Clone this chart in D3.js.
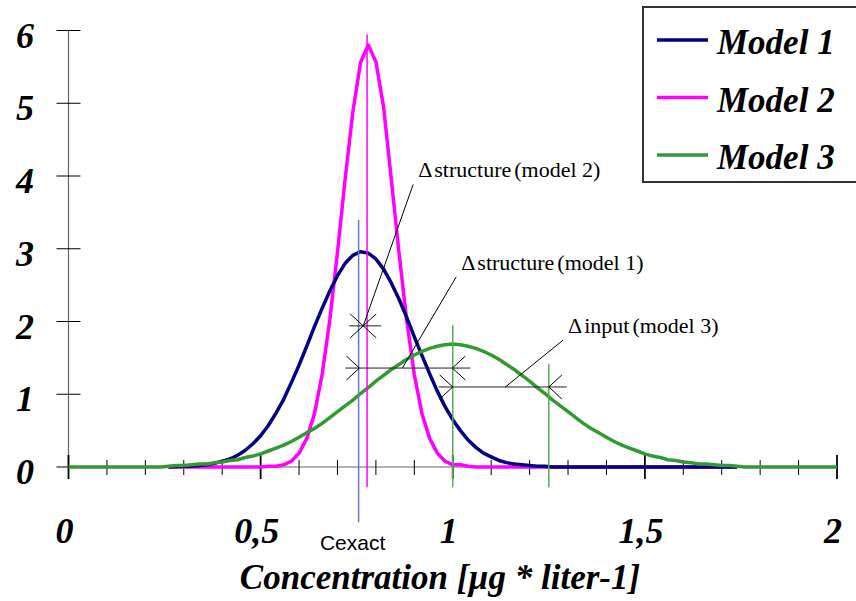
<!DOCTYPE html>
<html>
<head>
<meta charset="utf-8">
<script src="https://cdn.jsdelivr.net/npm/d3@7"></script>
<style>
  body { margin: 0; background: #fff; }
  svg { display: block; }
</style>
</head>
<body>
<div class="chart"></div>
<script>
// curves: [concentration, density]
var model1 = [[0.26,0],[0.30,0.01],[0.32,0.01],[0.34,0.02],[0.36,0.03],[0.38,0.05],[0.40,0.08],[0.42,0.11],[0.44,0.16],
  [0.46,0.23],[0.48,0.32],[0.50,0.43],[0.52,0.57],[0.54,0.74],[0.56,0.93],[0.58,1.16],[0.60,1.40],[0.62,1.66],[0.64,1.93],
  [0.66,2.18],[0.68,2.42],[0.70,2.63],[0.72,2.80],[0.74,2.91],[0.76,2.96],[0.78,2.94],[0.80,2.86],[0.82,2.72],[0.84,2.53],
  [0.86,2.31],[0.88,2.06],[0.90,1.79],[0.92,1.53],[0.94,1.28],[0.96,1.04],[0.98,0.83],[1.00,0.65],[1.02,0.50],[1.04,0.37],
  [1.06,0.27],[1.08,0.19],[1.10,0.14],[1.12,0.09],[1.14,0.06],[1.16,0.04],[1.18,0.03],[1.20,0.02],[1.22,0.01],[1.24,0.01],
  [1.26,0],[1.74,0]];
var model2 = [[0.26,0],[0.50,0],[0.52,0.01],[0.54,0.01],[0.56,0.03],[0.58,0.08],[0.60,0.19],[0.62,0.39],[0.64,0.73],
  [0.66,1.27],[0.68,2.02],[0.70,2.95],[0.72,3.96],[0.74,4.88],[0.76,5.56],[0.78,5.80],[0.80,5.57],[0.82,4.95],[0.84,3.96],
  [0.86,2.95],[0.88,2.02],[0.90,1.27],[0.92,0.73],[0.94,0.39],[0.96,0.19],[0.98,0.08],[1.00,0.03],[1.02,0.03],[1.04,0.01],
  [1.06,0],[1.74,0]];
var model3 = [[0,0],[0.24,0],[0.26,0.01],[0.28,0.02],[0.30,0.02],[0.32,0.03],[0.34,0.04],[0.36,0.04],[0.38,0.06],[0.40,0.07],
  [0.42,0.09],[0.44,0.10],[0.46,0.13],[0.48,0.15],[0.50,0.18],[0.52,0.22],[0.54,0.26],[0.56,0.30],[0.58,0.35],[0.60,0.41],
  [0.62,0.47],[0.64,0.53],[0.66,0.60],[0.68,0.68],[0.70,0.76],[0.72,0.84],[0.74,0.92],[0.76,1.01],[0.78,1.09],[0.80,1.18],
  [0.82,1.26],[0.84,1.34],[0.86,1.41],[0.88,1.48],[0.90,1.54],[0.92,1.59],[0.94,1.63],[0.96,1.66],[0.98,1.68],[1.00,1.69],
  [1.02,1.68],[1.04,1.66],[1.06,1.63],[1.08,1.59],[1.10,1.54],[1.12,1.48],[1.14,1.41],[1.16,1.34],[1.18,1.26],[1.20,1.18],
  [1.22,1.09],[1.24,1.01],[1.26,0.92],[1.28,0.84],[1.30,0.76],[1.32,0.68],[1.34,0.60],[1.36,0.53],[1.38,0.47],[1.40,0.41],
  [1.42,0.35],[1.44,0.30],[1.46,0.26],[1.48,0.22],[1.50,0.18],[1.52,0.15],[1.54,0.13],[1.56,0.10],[1.58,0.09],[1.60,0.07],
  [1.62,0.06],[1.64,0.04],[1.66,0.04],[1.68,0.03],[1.70,0.02],[1.72,0.02],[1.74,0.01],[1.76,0],[2,0]];

var seriesNames = ["Model 1", "Model 2", "Model 3"];
var seriesColors = ["#000080", "#ff00ff", "#339933"];

var xMajor = [0, 0.5, 1, 1.5, 2];
var xMajorLabels = ["0", "0,5", "1", "1,5", "2"];
var xMinor = [0.1, 0.2, 0.3, 0.4, 0.6, 0.7, 0.8, 0.9, 1.1, 1.2, 1.3, 1.4, 1.6, 1.7, 1.8, 1.9];
var yTicks = [0, 1, 2, 3, 4, 5, 6];

// vertical marker lines: x, top, bottom (data units)
var markers = [
  { x: 0.755, top: 3.40, bottom: -0.76, color: "#6a76c4" },
  { x: 0.777, top: 5.95, bottom: -0.28, color: "#ff00ff" },
  { x: 1.0,   top: 1.95, bottom: -0.28, color: "#5aaa5a" },
  { x: 1.25,  top: 1.42, bottom: -0.28, color: "#5aaa5a" }
];

// dimension arrows between two concentrations + label with leader
var dims = [
  { from: 0.767, to: 0.767, y: 1.94, lead: 0.767, label: "structure", model: "(model 2)", tx: 0.91, ty: 3.98 },
  { from: 0.757, to: 0.999, y: 1.36, lead: 0.869, label: "structure", model: "(model 1)", tx: 1.022, ty: 2.71 },
  { from: 1.0,   to: 1.25,  y: 1.10, lead: 1.137, label: "input",     model: "(model 3)", tx: 1.30, ty: 1.84 }
];

var W = 856, H = 601;
var svg = d3.select(".chart").append("svg")
  .attr("width", W).attr("height", H);

var x = d3.scaleLinear().domain([0, 2]).range([68.5, 837]);
var y = d3.scaleLinear().domain([0, 6]).range([467, 30.5]);

var serif = "'Liberation Serif', 'Times New Roman', serif";

// axes
svg.append("line")
  .attr("x1", x(0)).attr("x2", x(0)).attr("y1", y(6)).attr("y2", y(0))
  .attr("stroke", "#666").attr("stroke-width", 1.2);
svg.append("line")
  .attr("x1", x(0)).attr("x2", x(2)).attr("y1", y(0)).attr("y2", y(0))
  .attr("stroke", "#666").attr("stroke-width", 1.2);

svg.append("g").selectAll("line").data(yTicks).enter().append("line")
  .attr("x1", x(0) - 12).attr("x2", x(0) + 12)
  .attr("y1", function (d) { return y(d); }).attr("y2", function (d) { return y(d); })
  .attr("stroke", "#000").attr("stroke-width", 1);

svg.append("g").selectAll("line").data(xMinor).enter().append("line")
  .attr("x1", function (d) { return x(d); }).attr("x2", function (d) { return x(d); })
  .attr("y1", y(0) - 7).attr("y2", y(0) + 8)
  .attr("stroke", "#000").attr("stroke-width", 1);

svg.append("g").selectAll("line").data(xMajor).enter().append("line")
  .attr("x1", function (d) { return x(d); }).attr("x2", function (d) { return x(d); })
  .attr("y1", y(0) - 12).attr("y2", y(0) + 12)
  .attr("stroke", "#000").attr("stroke-width", 1.8);

// tick labels
svg.append("g").selectAll("text").data(yTicks).enter().append("text")
  .attr("x", 34).attr("y", function (d) { return y(d) + 17; })
  .attr("text-anchor", "end")
  .style("font", "italic bold 36px " + serif)
  .text(function (d) { return d; });

svg.append("g").selectAll("text").data(xMajor).enter().append("text")
  .attr("x", function (d) { return x(d) - 4; }).attr("y", 543)
  .attr("text-anchor", "middle")
  .style("font", "italic bold 36px " + serif)
  .text(function (d, i) { return xMajorLabels[i]; });

svg.append("text")
  .attr("x", 440).attr("y", 589)
  .attr("text-anchor", "middle")
  .style("font", "italic bold 35px " + serif)
  .text("Concentration [µg * liter-1]");

// curves
var line = d3.line()
  .x(function (d) { return x(d[0]); })
  .y(function (d) { return y(d[1]); });

var curves = [model2, model1, model3];
var curveColors = [seriesColors[1], seriesColors[0], seriesColors[2]];
svg.append("g").selectAll("path").data(curves).enter().append("path")
  .attr("d", line)
  .attr("fill", "none")
  .attr("stroke", function (d, i) { return curveColors[i]; })
  .attr("stroke-width", 3.5)
  .attr("stroke-linejoin", "round");

// vertical markers
svg.append("g").selectAll("line").data(markers).enter().append("line")
  .attr("x1", function (d) { return x(d.x); }).attr("x2", function (d) { return x(d.x); })
  .attr("y1", function (d) { return y(d.top); }).attr("y2", function (d) { return y(d.bottom); })
  .attr("stroke", function (d) { return d.color; })
  .attr("stroke-width", 1.5);

svg.append("text")
  .attr("x", x(0.755) - 6).attr("y", 550)
  .attr("text-anchor", "middle")
  .style("font", "21px 'Liberation Sans', Arial, sans-serif")
  .text("Cexact");

// dimension lines
var dg = svg.append("g").selectAll("g").data(dims).enter().append("g");
dg.append("line")
  .attr("x1", function (d) { return x(d.from) - 14; })
  .attr("x2", function (d) { return x(d.to) + 18; })
  .attr("y1", function (d) { return y(d.y); }).attr("y2", function (d) { return y(d.y); })
  .attr("stroke", "#222").attr("stroke-width", 1);
dg.append("path")
  .attr("d", function (d) {
    var a = x(d.from), b = x(d.to), c = y(d.y);
    return "M" + (a - 13) + "," + (c - 12) + "L" + a + "," + c + "L" + (a - 13) + "," + (c + 12) +
      "M" + (b + 13) + "," + (c - 12) + "L" + b + "," + c + "L" + (b + 13) + "," + (c + 12);
  })
  .attr("fill", "none").attr("stroke", "#000").attr("stroke-width", 1);
dg.append("line")
  .attr("x1", function (d) { return x(d.tx) - 5; })
  .attr("y1", function (d) { return y(d.ty) + 7; })
  .attr("x2", function (d) { return x(d.lead); })
  .attr("y2", function (d) { return y(d.y); })
  .attr("stroke", "#000").attr("stroke-width", 1);
var lt = dg.append("text")
  .attr("x", function (d) { return x(d.tx); })
  .attr("y", function (d) { return y(d.ty); })
  .style("font", "22px " + serif);
lt.append("tspan").text("Δ");
lt.append("tspan").attr("dx", 2).text(function (d) { return d.label; });
lt.append("tspan").attr("dx", 3).text(function (d) { return d.model; });

// legend
var legend = svg.append("g");
legend.append("rect")
  .attr("x", 643).attr("y", 7).attr("width", 240).attr("height", 175)
  .attr("fill", "#fff").attr("stroke", "#333").attr("stroke-width", 2);
var li = legend.selectAll("g.item").data(seriesNames).enter().append("g")
  .attr("transform", function (d, i) { return "translate(0," + (40 + i * 57.5) + ")"; });
li.append("line")
  .attr("x1", 657).attr("x2", 708).attr("y1", 0).attr("y2", 0)
  .attr("stroke", function (d, i) { return seriesColors[i]; })
  .attr("stroke-width", 3.5);
li.append("text")
  .attr("x", 717).attr("y", 14)
  .style("font", "italic bold 35px " + serif)
  .text(function (d) { return d; });
</script>
</body>
</html>
